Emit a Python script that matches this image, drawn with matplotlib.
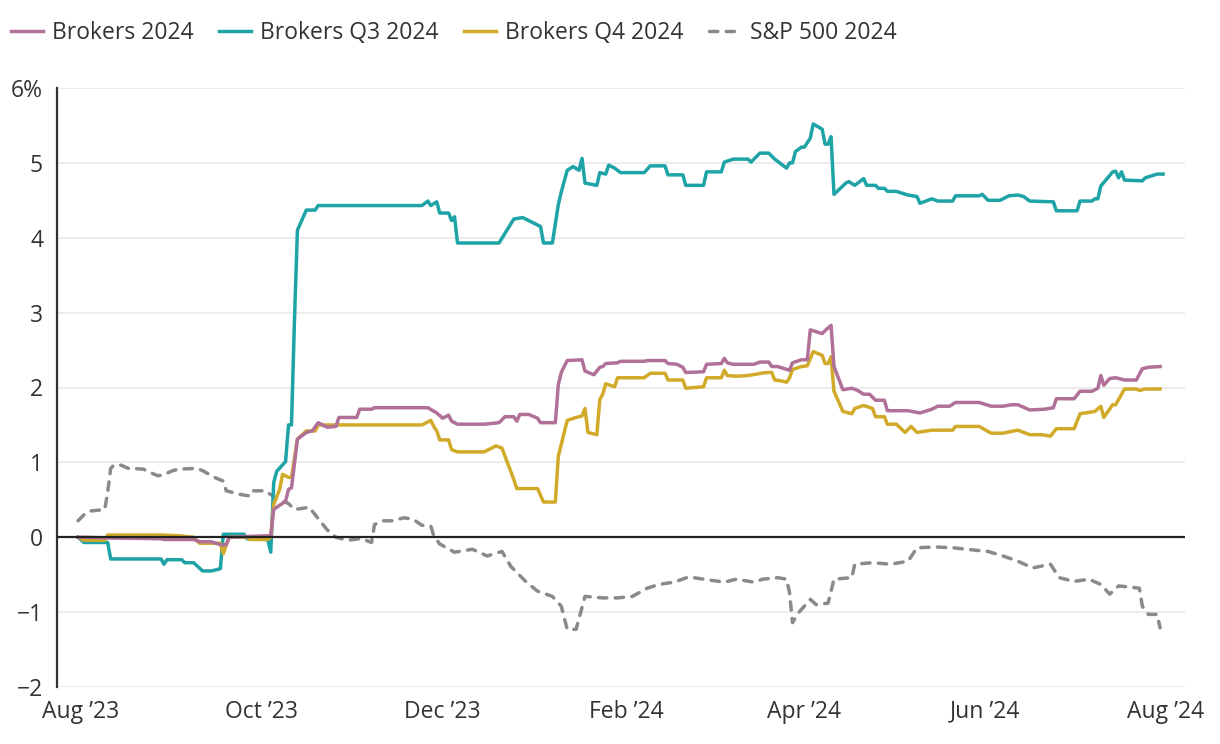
import pandas as pd
import matplotlib.pyplot as plt

plt.rcParams['font.family'] = ['Open Sans', 'DejaVu Sans']

start = pd.Timestamp("2023-08-01")

# days since 1 Aug 2023, % values
teal_days = [-1, 1, 9, 10, 27, 28, 29, 34, 35, 38, 41, 44, 47, 48, 50, 55, 56,
             63, 64, 65, 66, 69, 70, 71, 72, 73, 76, 79, 80, 115, 117, 118, 120, 121, 124, 125, 126, 127,
             141, 146, 149, 154, 155, 156, 159, 161, 162, 164, 166, 168, 169, 170, 174, 175, 177, 178, 180, 182,
             190, 192, 197, 198, 203, 204,
             210, 211, 216, 217, 220, 225, 226, 229, 232, 234, 238, 239, 240, 241, 243, 244, 246, 247, 250, 251,
             252, 253, 254, 258, 259, 261, 264, 265, 268, 269, 271, 272, 275, 279,
             282, 283, 287, 289, 294, 295, 303, 304, 306, 310, 313, 316, 318, 320, 328, 329, 336, 337, 341, 342,
             343, 344, 348, 349, 350, 351, 352,
             358, 359, 363, 365]
teal_vals = [0, -0.07, -0.07, -0.29, -0.29, -0.36, -0.3, -0.3, -0.34, -0.34, -0.45, -0.45, -0.42, 0.04, 0.04, 0.04,
             -0.02, -0.03, -0.2, 0.73, 0.88, 1.01, 1.5, 1.5, 2.9, 4.1,
             4.37, 4.37, 4.43, 4.43, 4.49, 4.43, 4.48, 4.33, 4.33, 4.23, 4.28, 3.93, 3.93, 4.25, 4.27, 4.17, 4.15,
             3.93, 3.93, 4.44, 4.61,
             4.9, 4.95, 4.9, 5.06, 4.73, 4.7, 4.87, 4.85, 4.97, 4.93, 4.87, 4.87, 4.96, 4.96, 4.84, 4.84, 4.7, 4.7,
             4.88, 4.88,
             5.01, 5.05, 5.05, 5.01, 5.13, 5.13, 5.05, 4.93, 5.0, 5.0, 5.15, 5.21, 5.21, 5.33, 5.52, 5.45, 5.25,
             5.25, 5.35, 4.58,
             4.73, 4.75, 4.7, 4.79, 4.7, 4.7, 4.66, 4.66, 4.62, 4.62, 4.57, 4.55, 4.46, 4.52, 4.49, 4.49, 4.56,
             4.56, 4.58, 4.5,
             4.5, 4.56, 4.57, 4.55, 4.49, 4.48, 4.36, 4.36, 4.49, 4.49, 4.52, 4.52, 4.69, 4.88, 4.89, 4.8, 4.88,
             4.77, 4.76, 4.8,
             4.85, 4.85]

purple_days = [-1, 1, 10, 27, 28, 38, 40, 44, 47, 49, 50,
               63, 64, 65, 66, 69, 70, 71, 73, 76, 78, 80, 83, 86, 87, 93, 94, 98, 99, 117, 120, 122, 124, 125, 127,
               136, 141, 143, 146, 147, 148, 151, 154, 155, 160, 161, 162, 164, 169, 170, 173, 175, 176, 177, 181,
               182, 190, 191, 197, 198, 201, 203, 204,
               210, 211, 216, 217, 218, 220, 227, 229, 232, 233, 235, 239, 240, 243, 245, 246, 250, 251, 253, 254,
               257, 260, 262, 264, 266, 268, 271, 272, 279,
               283, 287, 289, 293, 295, 303, 307, 311, 314, 316, 320, 325, 328, 329, 335, 337, 341, 343, 344, 345,
               347, 349, 352,
               356, 358, 360, 364]
purple_vals = [0, 0, -0.01, -0.02, -0.03, -0.03, -0.06, -0.06, -0.1, -0.1, 0, 0.02, 0.02, 0.37, 0.4, 0.48, 0.64,
               0.66, 1.31, 1.4, 1.42, 1.53, 1.47, 1.48, 1.6,
               1.6, 1.71, 1.71, 1.73, 1.73, 1.66, 1.59, 1.63, 1.55, 1.51, 1.51, 1.53, 1.61, 1.61, 1.55, 1.64, 1.64,
               1.59, 1.53, 1.53,
               2.04, 2.2, 2.36, 2.37, 2.22, 2.17, 2.27, 2.28, 2.32, 2.33, 2.35, 2.35, 2.36, 2.36, 2.32, 2.31, 2.27,
               2.2, 2.21, 2.31,
               2.32, 2.39, 2.33, 2.31, 2.31, 2.34, 2.34, 2.28, 2.28, 2.23, 2.33, 2.37, 2.37, 2.77, 2.72, 2.76, 2.83,
               2.28, 1.97, 1.99,
               1.96, 1.91, 1.91, 1.83, 1.83, 1.69, 1.69, 1.66, 1.71, 1.75, 1.75, 1.8, 1.8, 1.75, 1.75, 1.77, 1.77,
               1.7, 1.71, 1.73,
               1.85, 1.85, 1.95, 1.95, 1.99, 2.16, 2.03, 2.12, 2.13, 2.1, 2.1, 2.25, 2.27, 2.28]

gold_days = [-1, 1, 8, 9, 27, 33, 38, 40, 44, 47, 48, 49, 50, 56, 57,
             63, 64, 65, 67, 68, 70, 71, 73, 76, 79, 80, 115, 118, 119, 120, 121, 124, 125, 127,
             136, 140, 142, 146, 147, 154, 156, 160, 161, 164, 167, 169, 170, 171, 174, 175, 176, 177, 180, 181,
             190, 192, 197, 198, 203, 204,
             210, 211, 216, 217, 218, 221, 225, 231, 233, 234, 236, 238, 239, 240, 243, 245, 247, 250, 251, 252,
             253, 254, 257, 260, 261, 264, 267, 268, 271, 272, 275, 278, 280,
             282, 287, 294, 295, 303, 307, 311, 316, 320, 324, 327, 329, 335, 337, 342, 344, 345, 348, 349, 352,
             356, 357, 359, 364]
gold_vals = [0, -0.04, -0.04, 0.03, 0.03, 0.02, 0, -0.08, -0.08, -0.08, -0.22, -0.1, 0, 0, -0.03, -0.03, 0, 0.44,
             0.64, 0.84, 0.8, 0.8, 1.31, 1.42, 1.42, 1.5,
             1.5, 1.56, 1.48, 1.42, 1.3, 1.3, 1.17, 1.14, 1.14, 1.22, 1.19, 0.77, 0.65, 0.65, 0.47, 0.47, 1.08,
             1.56, 1.6, 1.62,
             1.72, 1.4, 1.37, 1.84, 1.91, 2.05, 2.01, 2.13, 2.13, 2.19, 2.19, 2.1, 2.1, 1.99, 2.01, 2.13, 2.13,
             2.23, 2.16, 2.15,
             2.16, 2.2, 2.2, 2.1, 2.09, 2.07, 2.13, 2.24, 2.28, 2.29, 2.48, 2.43, 2.32, 2.32, 2.41, 1.95, 1.68,
             1.65, 1.72, 1.76,
             1.72, 1.61, 1.61, 1.51, 1.51, 1.4, 1.48, 1.4, 1.43, 1.43, 1.48, 1.48, 1.39, 1.39, 1.43, 1.37, 1.37,
             1.35, 1.45, 1.45,
             1.65, 1.68, 1.75, 1.6, 1.77, 1.77, 1.98, 1.98, 1.96, 1.98, 1.98]

spx_days = [-1, 1, 3, 8, 9, 10, 11, 13, 16, 21, 23, 26, 28, 31, 33, 39, 41, 45, 48, 49, 54, 57, 58,
            62, 66, 70, 72, 77, 80, 83, 86, 90, 94, 96, 98, 99, 102, 105, 109, 112, 115, 118, 119, 121, 126, 132,
            137, 142, 145, 150, 154, 159, 162, 164, 167, 170, 176, 181, 186, 191, 195, 200, 205,
            210, 217, 221, 227, 230, 235, 238, 239, 240, 242, 246, 248, 252, 254, 260, 261, 267, 273, 279,
            282, 288, 294, 301, 306, 311, 316, 321, 327, 330, 335, 340, 344, 347, 350,
            357, 358, 360, 363, 364]
spx_vals = [0.22, 0.3, 0.35, 0.37, 0.6, 0.92, 0.96, 0.97, 0.92, 0.91, 0.87, 0.82, 0.84, 0.89, 0.91, 0.92, 0.89,
            0.8, 0.75, 0.62, 0.57, 0.55, 0.62, 0.62, 0.52, 0.45,
            0.37, 0.4, 0.25, 0.1, 0.0, -0.04, -0.02, -0.04, -0.07, 0.17, 0.22, 0.22, 0.26, 0.24, 0.16, 0.15, 0.02,
            -0.09, -0.2, -0.16, -0.25, -0.19,
            -0.39, -0.59, -0.72, -0.79, -0.92, -1.23, -1.23, -0.79, -0.81, -0.81, -0.79, -0.68, -0.63, -0.6,
            -0.53, -0.56, -0.6, -0.56, -0.6, -0.56,
            -0.54, -0.56, -0.74, -1.14, -1.01, -0.83, -0.9, -0.88, -0.56, -0.54, -0.36, -0.34, -0.36, -0.32,
            -0.14, -0.13, -0.14, -0.17, -0.19, -0.25,
            -0.32, -0.41, -0.36, -0.54, -0.59, -0.56, -0.63, -0.76, -0.65, -0.68, -0.92, -1.03, -1.03, -1.21]

tick_dates = ["2023-08-01", "2023-10-01", "2023-12-01", "2024-02-01", "2024-04-01", "2024-06-01", "2024-08-01"]
tick_labels = ["Aug \u201923", "Oct \u201923", "Dec \u201923", "Feb \u201924", "Apr \u201924", "Jun \u201924",
               "Aug \u201924"]
y_ticks = [-2, -1, 0, 1, 2, 3, 4, 5, 6]
y_labels = ["\u22122", "\u22121", "0", "1", "2", "3", "4", "5", "6%"]


def to_dates(days):
    return start + pd.to_timedelta(days, unit="D")


fig = plt.figure(figsize=(12.2, 7.44), dpi=100)
ax = fig.add_axes([57 / 1220, 57 / 744, 1128 / 1220, 599 / 744])

lw = 2.5
fs = 16.5
ax.plot(to_dates(spx_days), spx_vals, color="#8a8a8a", lw=lw, dashes=(2.4, 2.4),
        solid_capstyle="round", dash_capstyle="round", label="S&P 500 2024", zorder=2)
ax.plot(to_dates(teal_days), teal_vals, color="#1ea3a6", lw=lw, label="Brokers Q3 2024", zorder=3)
ax.plot(to_dates(gold_days), gold_vals, color="#d2aa2a", lw=lw, label="Brokers Q4 2024", zorder=4)
ax.plot(to_dates(purple_days), purple_vals, color="#b07098", lw=lw, label="Brokers 2024", zorder=5)

ax.axhline(0, color="#222222", lw=1.6, zorder=6)

ax.set_ylim(-2, 6)
ax.set_xlim(start - pd.Timedelta(days=8.1), start + pd.Timedelta(days=372.4))
ax.set_yticks(y_ticks)
ax.set_yticklabels(y_labels)
ax.set_xticks(pd.to_datetime(tick_dates))
ax.set_xticklabels(tick_labels)
ax.grid(axis="y", color="#ebebeb", lw=1.3)
ax.set_axisbelow(True)

for s in ["top", "right", "bottom"]:
    ax.spines[s].set_visible(False)
ax.spines["left"].set_color("#333333")
ax.spines["left"].set_linewidth(1.6)
ax.tick_params(axis="y", length=0, pad=10, labelsize=fs, labelcolor="#333333")
ax.tick_params(axis="x", length=0, pad=9, labelsize=fs, labelcolor="#333333")

handles, labels = ax.get_legend_handles_labels()
order = [3, 1, 2, 0]
fig.legend([handles[i] for i in order], [labels[i] for i in order], loc="upper left",
           bbox_to_anchor=(-0.008, 1.0), ncol=4, frameon=False, fontsize=fs, handlelength=1.4,
           handletextpad=0.4, columnspacing=1.1, labelcolor="#333333")

fig.savefig("out.png", dpi=100)
